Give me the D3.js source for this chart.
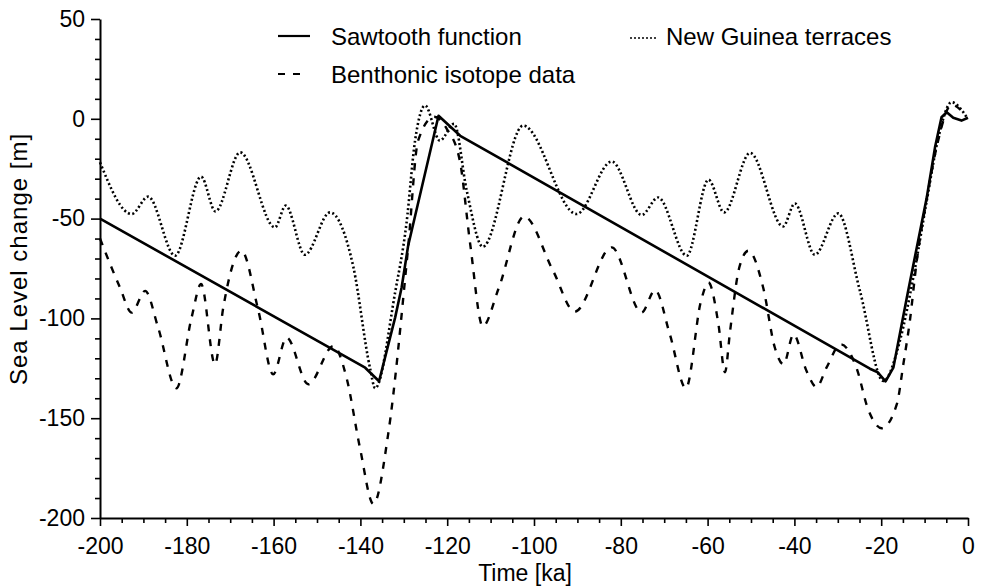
<!DOCTYPE html>
<html><head><meta charset="utf-8">
<script src="https://cdn.jsdelivr.net/npm/d3@7"></script>
<style>
body{margin:0;background:#fff}
svg{display:block}
text{font-family:"Liberation Sans",Arial,Helvetica,sans-serif;fill:#000}
</style>
</head><body><svg id="c" width="984" height="586"></svg>
<script>
// ---- data ----
const xTicks = [-200,-180,-160,-140,-120,-100,-80,-60,-40,-20,0];
const yTicks = [50,0,-50,-100,-150,-200];

const sawTime  = [-200,-138.9,-135.7,-132,-130.5,-129,-122,-119.5,-117,-22.6,-20.8,-19,-17.2,-14.1,-11.8,-9.5,-7.6,-6.1,-4.9,-3.4,-1.5,0];
const sawLevel = [-50,-124.7,-131.5,-99.6,-84.5,-63.6,1.5,-3.5,-8.5,-125.2,-127,-131.5,-124.7,-89.6,-64.5,-39.4,-14.3,0.8,3.3,0.5,-0.9,0.5];

const ngTime  = [-200,-192.7,-188.9,-182.7,-176.7,-173.4,-167.7,-159.7,-157.2,-152.8,-147.0,-141.6,-137.8,-136.6,-132.0,-129.4,-127.4,-125.1,-121.7,-118.4,-115.5,-111.8,-102.5,-90.2,-82.1,-75.2,-71.4,-64.8,-59.8,-56.2,-50.2,-42.6,-39.9,-35.3,-29.9,-24.9,-19.5,-15.7,-12.6,-9.5,-6.8,-3.8,-0.3];
const ngLevel = [-21.8,-47.7,-39.0,-68.6,-29.0,-46.4,-16.8,-54.4,-43.5,-68.1,-46.9,-74.5,-124.7,-135,-87,-52.7,-10.9,6.7,-10.9,-2.5,-36,-64.1,-3.4,-47.7,-21.4,-48.2,-39.4,-68.6,-30.5,-46.9,-17.1,-53.9,-42.4,-68.1,-47.4,-86.2,-131.4,-111.3,-79.5,-41,-9.2,8.3,0.8];

const bTime  = [-200,-195.4,-192.7,-189.6,-186.6,-182.4,-178.9,-176.7,-173.5,-171.6,-167.4,-163.5,-160.1,-157.0,-152,-146.2,-143.2,-140.1,-137,-133.6,-129,-126.7,-123,-120.1,-117.1,-114.7,-111.8,-108.2,-102.3,-95.6,-90.6,-82.1,-75.2,-72.1,-68.7,-65,-61.5,-59.8,-57.5,-56,-54.8,-52.7,-50.6,-47.2,-44.5,-42.5,-40.2,-37.2,-34.9,-32.6,-29.3,-25.7,-23,-19.9,-16.4,-14.9,-13.4,-11.8,-9.5,-7,-3.8,-1];
const bLevel = [-60,-84.5,-97.1,-86.2,-104.6,-135,-99.6,-82.8,-123,-94.6,-66.1,-96.2,-128,-109.6,-133,-113.8,-129.7,-164.9,-193,-158,-64.4,-10.9,1,-5,-20.9,-62.8,-104,-85.3,-48.9,-76.2,-96.6,-64.4,-97.1,-85.8,-108,-135,-91,-82,-103,-127,-106,-74.5,-66.1,-84.5,-114.7,-123,-108,-126.4,-134.4,-124.7,-113,-124.7,-145.6,-155,-143,-123,-101.3,-71.1,-40,-12,7,3];

// ---- layout ----
const svg = d3.select("#c");
const x = d3.scaleLinear().domain([-200,0]).range([100,968]);
const y = d3.scaleLinear().domain([-200,50]).range([518,19]);
const fmt = d => String(d);

// axes: minor ticks
const xMinor = d3.range(-200,1,5).filter(v => v % 20 !== 0);
const yMinor = d3.range(-200,51,10).filter(v => v % 50 !== 0);

const gx = svg.append("g").attr("transform","translate(0,518)");
gx.call(d3.axisBottom(x).tickValues(xTicks).tickFormat(fmt).tickSize(8).tickPadding(12).tickSizeOuter(0));
gx.append("g").call(d3.axisBottom(x).tickValues(xMinor).tickFormat("").tickSize(5).tickSizeOuter(0))
  .select(".domain").remove();

const gy = svg.append("g").attr("transform","translate(100,0)");
gy.call(d3.axisLeft(y).tickValues(yTicks).tickFormat(fmt).tickSize(9).tickPadding(6).tickSizeOuter(0));
gy.append("g").call(d3.axisLeft(y).tickValues(yMinor).tickFormat("").tickSize(5).tickSizeOuter(0))
  .select(".domain").remove();

svg.selectAll(".domain").attr("stroke","#000").attr("stroke-width",2);
svg.selectAll(".tick line").attr("stroke","#000").attr("stroke-width",1.6);
svg.selectAll(".tick text").attr("font-size",23).attr("font-family",'"Liberation Sans",Arial,sans-serif').attr("fill","#000");

// axis titles
svg.append("text").attr("x",525).attr("y",581).attr("text-anchor","middle")
  .attr("font-size",23).text("Time [ka]");
svg.append("text").attr("transform","translate(27,259) rotate(-90)").attr("text-anchor","middle")
  .attr("font-size",24).attr("letter-spacing","1px").text("Sea Level change [m]");

// lines
const line = (xs, ys, curve) => d3.line().x((d,i)=>x(xs[i])).y((d,i)=>y(ys[i])).curve(curve)(xs);

svg.append("path").attr("d", line(ngTime, ngLevel, d3.curveMonotoneX))
  .attr("fill","none").attr("stroke","#000").attr("stroke-width",2.6).attr("stroke-dasharray","2,2.5");
svg.append("path").attr("d", line(bTime, bLevel, d3.curveMonotoneX))
  .attr("fill","none").attr("stroke","#000").attr("stroke-width",2.4).attr("stroke-dasharray","7,8");
svg.append("path").attr("d", line(sawTime, sawLevel, d3.curveLinear))
  .attr("fill","none").attr("stroke","#000").attr("stroke-width",2.6).attr("stroke-linejoin","round");

// legend
const legend = [
  {label:"Sawtooth function", x1:278, x2:310, ly:36, tx:331, ty:45, dash:null},
  {label:"New Guinea terraces", x1:630, x2:656, ly:38, tx:666, ty:45, dash:"2,2"},
  {label:"Benthonic isotope data", x1:278, x2:301, ly:74, tx:331, ty:83, dash:"7,8"}
];
const lg = svg.append("g");
legend.forEach(l => {
  lg.append("line").attr("x1",l.x1).attr("x2",l.x2).attr("y1",l.ly).attr("y2",l.ly)
    .attr("stroke","#000").attr("stroke-width", l.dash==="2,2" ? 1.6 : 2.2)
    .attr("stroke-dasharray", l.dash);
  lg.append("text").attr("x",l.tx).attr("y",l.ty).attr("font-size",24).text(l.label);
});
</script></body></html>
